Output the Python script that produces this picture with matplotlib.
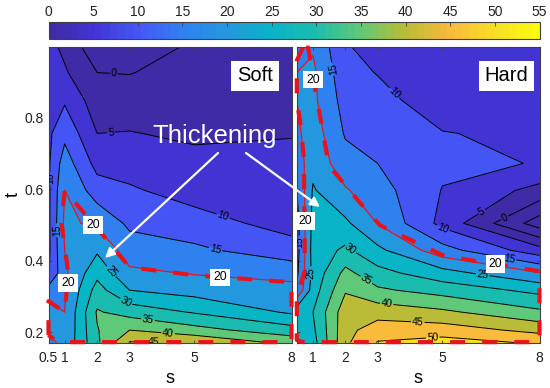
import numpy as np
import matplotlib
matplotlib.use('Agg')
import matplotlib.pyplot as plt
from matplotlib.colors import LinearSegmentedColormap, Normalize
from matplotlib.cm import ScalarMappable
from matplotlib.patches import FancyArrowPatch

plt.rcParams['font.family'] = ['Liberation Sans', 'DejaVu Sans']

s_values = [0.5, 1, 2, 3, 5, 8]
t_values = [0.171, 0.2056, 0.2558, 0.3172, 0.3647, 0.4289, 0.5042, 0.5963,
            0.6717, 0.7554, 0.8475, 0.9257, 0.997]

soft_s05 = [19, 20.7, 23, 17, 9.5, 9, 9, 9, 9.3, 9, 8, 7, 6.5]
soft_s1 = [21, 20.5, 20, 19.5, 19, 20, 21, 20, 17.5, 13.7, 9.4, 5.6, 3.9]
soft_s2 = [34, 34.7, 35.5, 32, 28.6, 24.3, 19, 12.4, 8.3, 5, 2.3, 0, -3.5]
soft_s3 = [45.3, 40, 33, 25, 21, 17.5, 14, 10.6, 8, 5.2, 2.5, -0.2, -5]
soft_s5 = [44.5, 36.8, 29.6, 23, 19.7, 16, 12, 8, 6.3, 4.2, 3, 2, 1.4]
soft_s8 = [38.5, 32, 24.3, 21.5, 18.5, 12, 8.2, 7, 6, 4.8, 3.2, 2.5, 2.2]

hard_s05 = [25, 26, 28, 15.5, 14, 13, 13, 15, 17, 19, 20, 20, 19.5]
hard_s1 = [28, 29, 30, 27.5, 26.5, 27, 26.5, 25.5, 23.5, 22.6, 21.1, 21, 19.5]
hard_s2 = [44, 43.5, 43, 39.5, 36.5, 31, 26, 20.5, 17, 14.5, 13, 11.5, 10.5]
hard_s3 = [50.3, 47.5, 43, 35.8, 31.7, 26.2, 19.8, 17, 15, 13.3, 11.5, 9.8, 8]
hard_s5 = [52, 47.5, 41, 33, 27, 17, 8.5, 9.8, 11, 10.2, 7.5, 5.5, 5.2]
hard_s8 = [49.3, 43.5, 36, 28.6, 20.4, 7, -7.6, 3.4, 9.8, 9, 8.5, 7.5, 7]

soft_edge_s = [0.5, 0.5, 1, 1.11, 0.90, 1, 2, 3, 5, 8, 8, 0.79, 0.5]
soft_edge_t = [0.1916, 0.2865, 0.2558, 0.3647, 0.5042, 0.5963, 0.4903, 0.3814,
               0.3591, 0.3395, 0.172, 0.172, 0.1916]
hard_edge_s = [0.69, 0.5, 0.5, 0.63, 0.72, 0.75, 0.5, 0.5, 0.69, 8, 8, 6.41,
               5.01, 3.07, 2.39, 1.49, 1.28, 1.06, 0.85, 0.69]
hard_edge_t = [0.9954, 0.9591, 0.8475, 0.7721, 0.68, 0.373, 0.2977, 0.1777, 0.172,
               0.172, 0.3702, 0.3926, 0.4149, 0.4986, 0.5684, 0.6661, 0.7721,
               0.8838, 0.9954, 0.9954]

soft_labels = [(2.52, .923), (2.43, .755), (.55, .63), (5.79, .496), (.70, .485),
               (5.64, .429), (2.40, .367), (2.89, .284), (3.57, .233), (4.19, .197),
               (3.82, .175)]
hard_labels = [(1.52, .934), (3.56, .873), (6.25, .532), (6.93, .518), (5.01, .487),
               (7.08, .409), (6.25, .362), (2.20, .437), (2.64, .345), (3.28, .281),
               (4.24, .228), (4.70, .186), (.91, .365), (.60, .451)]
soft_20 = [(1.87, .499), (1.10, .337), (5.79, .353)]
hard_20 = [(1.0, .906), (.75, .51), (6.64, .39)]

band_levels = list(range(-10, 60, 5))
soft_x_ticks = [0.5, 1, 2, 3, 5, 8]
soft_x_ticklabels = ['0.5', '1', '2', '3', '5', '8']
hard_x_ticks = [1, 2, 3, 5, 8]
hard_x_ticklabels = ['1', '2', '3', '5', '8']
t_ticks = [0.2, 0.4, 0.6, 0.8]
bar_ticks = list(range(0, 60, 5))

anchors = ['#3e2ba5', '#4335d8', '#4558f8', '#2f82f0', '#2498df', '#08b3c8',
           '#1cbdae', '#60c878', '#b8bc38', '#f8b83c', '#f8dc28', '#f8fa10']
cmap = LinearSegmentedColormap.from_list('parula_like', anchors, N=64)
norm = Normalize(0, 55)

W, H = 550, 388
fig = plt.figure(figsize=(5.5, 3.88), dpi=100)
frame = '#404040'


def box(x0, y0, x1, y1):
    return [x0 / W, 1 - y1 / H, (x1 - x0) / W, (y1 - y0) / H]


def panel(pos, columns, edge_s, edge_t, labels, labels20, name, name_xy, xt, xtl):
    ax = fig.add_axes(box(*pos))
    Z = np.array(columns).T
    colors = [cmap(norm(max(lev, 0))) for lev in band_levels[:-1]]
    ax.contourf(s_values, t_values, Z, levels=band_levels, colors=colors)
    line_levels = [lev for lev in band_levels[1:-1] if lev != 20]
    cs = ax.contour(s_values, t_values, Z, levels=line_levels, colors='black',
                    linewidths=0.7, linestyles='solid')
    texts = ax.clabel(cs, manual=labels, fmt='%d', fontsize=7.5, inline=True, inline_spacing=1)
    for txt in texts:
        r = (txt.get_rotation() + 180) % 360 - 180
        if r < -72:
            txt.set_rotation(r + 180)
    ax.contour(s_values, t_values, Z, levels=[20], colors='#e8141c', linewidths=0.9)
    ax.plot(edge_s, edge_t, color='#e8141c', lw=3, linestyle=(0, (3.6, 4.1)),
            dash_capstyle='butt', clip_on=False, zorder=5)
    for xy in labels20:
        ax.text(xy[0], xy[1], '20', fontsize=8.8, ha='center', va='center', zorder=6,
                bbox=dict(facecolor='white', edgecolor='none', pad=2))
    ax.text(name_xy[0], name_xy[1], name, transform=ax.transAxes, fontsize=14.5,
            ha='center', va='center', zorder=6,
            bbox=dict(facecolor='white', edgecolor='none', pad=4))
    ax.set_xlim(0.5, 8)
    ax.set_ylim(0.171, 0.997)
    ax.set_xticks(xt)
    ax.set_xticklabels(xtl)
    ax.set_yticks(t_ticks)
    ax.tick_params(direction='in', length=2.2, width=0.6, top=True, right=True,
                   labelsize=10, color=frame, labelcolor='#222222', pad=6)
    ax.tick_params(axis='y', pad=3.5)
    ax.set_xlabel('s', fontsize=13, labelpad=3.5)
    for sp in ax.spines.values():
        sp.set_color(frame)
        sp.set_linewidth(0.8)
    return ax


ax1 = panel((48.5, 47, 291.5, 342.5),
            [soft_s05, soft_s1, soft_s2, soft_s3, soft_s5, soft_s8],
            soft_edge_s, soft_edge_t, soft_labels, soft_20, 'Soft', (0.85, 0.902),
            soft_x_ticks, soft_x_ticklabels)
ax1.set_ylabel('t', fontsize=13, labelpad=2)
ax2 = panel((296.8, 47, 539.5, 342.5),
            [hard_s05, hard_s1, hard_s2, hard_s3, hard_s5, hard_s8],
            hard_edge_s, hard_edge_t, hard_labels, hard_20, 'Hard', (0.864, 0.902),
            hard_x_ticks, hard_x_ticklabels)
ax2.tick_params(labelleft=False)

cax = fig.add_axes(box(48.5, 21.5, 539.5, 38.5))
cb = fig.colorbar(ScalarMappable(norm=norm, cmap=cmap), cax=cax, orientation='horizontal')
cb.set_ticks(bar_ticks)
cax.xaxis.set_ticks_position('top')
cax.tick_params(direction='in', length=3, width=0.6, labelsize=10, color=frame,
                labelcolor='#222222', pad=2)
cb.outline.set_edgecolor(frame)
cb.outline.set_linewidth(0.8)

fig.text(214.5 / W, 1 - 136 / H, 'Thickening', color='white', fontsize=18.5,
         ha='center', va='center', zorder=10)
for start, end in [((218, 153), (105, 258)), ((246, 153), (320, 207))]:
    arrow = FancyArrowPatch((start[0] / W, 1 - start[1] / H), (end[0] / W, 1 - end[1] / H),
                            transform=fig.transFigure, arrowstyle='-|>', mutation_scale=14,
                            color='white', lw=1.6, shrinkA=0, shrinkB=0, zorder=10)
    fig.add_artist(arrow)

fig.savefig('out.png', dpi=100)
